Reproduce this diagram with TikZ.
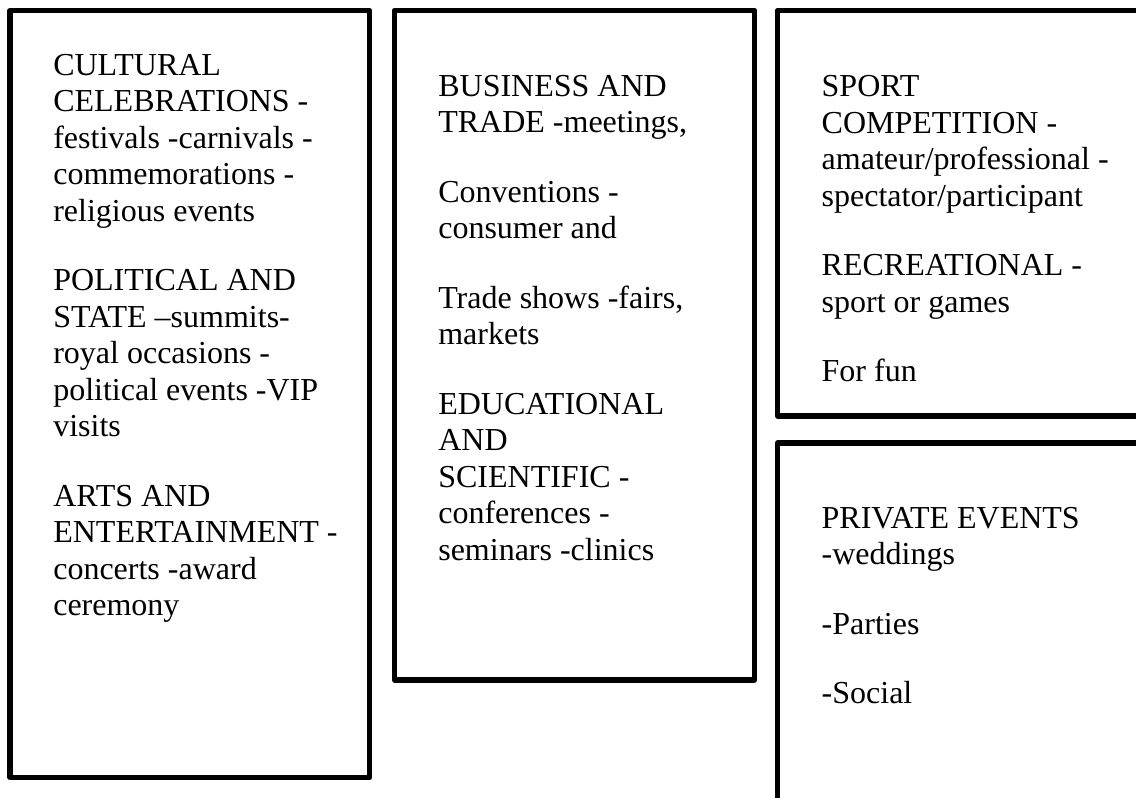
\documentclass[tikz,border=0pt]{standalone}
\usepackage{fontspec}
\setmainfont{Liberation Serif}
\usepackage{tikz}

\begin{document}
\begin{tikzpicture}[y=-1pt, x=1pt, inner sep=0pt, outer sep=0pt,
  evbox/.style={draw=black, line width=5.3pt, line join=round},
  evtext/.style={anchor=base west, align=left,
    font=\fontsize{32}{36.5}\selectfont}]
\useasboundingbox (0,0) rectangle (1136,798);
\clip (0,0) rectangle (1136,798);

% the four frames
\path[evbox] (10,10.5) rectangle (369.5,777.5);
\path[evbox] (394.5,10.5) rectangle (754.5,680);
\path[evbox] (777.5,10.5) rectangle (1138.5,416);
\path[evbox] (777.5,443) rectangle (1138.5,815);

% text blocks, placed by the baseline of their last line
\node[evtext] (cultural) at (53.3,615.5) {CULTURAL\\CELEBRATIONS -\\festivals -carnivals -\\commemorations -\\religious events\\[33pt]
  POLITICAL AND\\STATE –summits-\\royal occasions -\\political events -VIP\\visits\\[33pt]
  ARTS AND\\ENTERTAINMENT -\\concerts -award\\ceremony};

\node[evtext] (business) at (438.3,560) {BUSINESS AND\\TRADE -meetings,\\[33pt]
  Conventions -\\consumer and\\[33pt]
  Trade shows -fairs,\\markets\\[33pt]
  EDUCATIONAL\\AND\\SCIENTIFIC -\\conferences -\\seminars -clinics};

\node[evtext] (sport) at (821.7,381.7) {SPORT\\COMPETITION -\\amateur/professional -\\spectator/participant\\[33pt]
  RECREATIONAL -\\sport or games\\[33pt]
  For fun};

\node[evtext] (private) at (821.7,703.8) {PRIVATE EVENTS\\-weddings\\[33pt]
  -Parties\\[33pt]
  -Social};
\end{tikzpicture}
\end{document}
